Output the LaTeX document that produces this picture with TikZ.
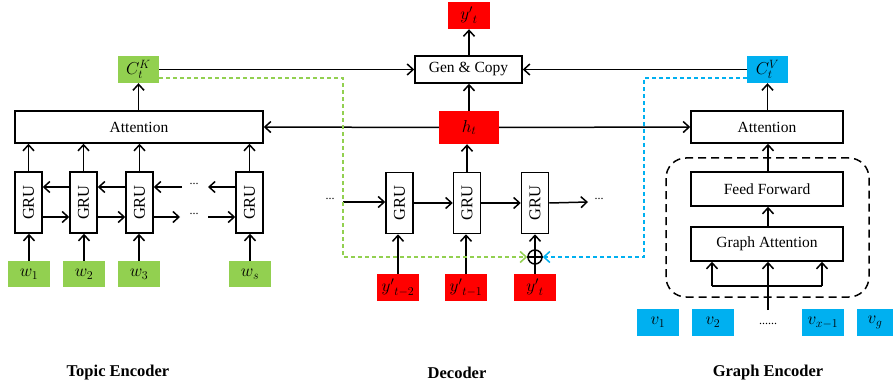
\documentclass[tikz,border=0pt]{standalone}
\usepackage{fontspec}
\setmainfont{Liberation Serif}
\usetikzlibrary{arrows.meta,calc}
\definecolor{gr}{HTML}{92D050}
\definecolor{bl}{HTML}{00B0F0}
\definecolor{rd}{HTML}{FF0000}
\begin{document}
\begin{tikzpicture}[x=1pt,y=-1pt,
 every node/.style={font=\fontsize{15.5}{18}\selectfont, inner sep=0pt},
 box/.style={draw, line width=1.5pt, fill=white},
 grubox/.style={draw, line width=1.5pt, minimum width=27pt, minimum height=61pt},
 mt/.style={font=\fontsize{17}{19}\selectfont},
 gtag/.style={mt, fill=gr, minimum width=42pt, minimum height=26pt},
 rtag/.style={mt, fill=rd, minimum width=42pt, minimum height=27pt},
 btag/.style={mt, fill=bl, minimum width=42pt, minimum height=27pt},
 ln/.style={line width=1.5pt},
 arr/.style={ln, -{Straight Barb[length=6pt,width=11pt,line width=1.5pt]}},
 garr/.style={line width=1.5pt, gr, dash pattern=on 4pt off 3pt, -{Straight Barb[length=6pt,width=11pt,line width=1.5pt]}},
 barr/.style={line width=1.5pt, bl, dash pattern=on 4pt off 3pt, -{Straight Barb[length=6pt,width=11pt,line width=1.5pt]}},
 title/.style={font=\fontsize{16.5}{19}\selectfont\bfseries},
 dts/.style={font=\fontsize{12}{14}\selectfont}
]
\useasboundingbox (0,0) rectangle (893,390);
\newcommand{\grunode}[3]{\node[grubox] (#1) at (#2,#3) {}; \node[rotate=90, font=\fontsize{16.5}{18}\selectfont] (#1t) at (#1) {GRU};}

% ---------- Topic encoder ----------
\node[gtag, minimum width=41pt, minimum height=27pt] (CK) at (138.5,69.5) {$C^{K}_{t}$};
\node[box, minimum width=248pt, minimum height=32pt] (attL) at (139,127) {Attention};
\grunode{g1}{28.5}{202.5}
\grunode{g2}{83.5}{202.5}
\grunode{g3}{139.5}{202.5}
\grunode{g4}{249.5}{202.5}
\node[gtag] (w1) at (29,274) {$w_1$};
\node[gtag] (w2) at (84,274) {$w_2$};
\node[gtag] (w3) at (139,274) {$w_3$};
\node[gtag] (ws) at (250,274) {$w_s$};
\coordinate (rT) at (0,187);
\coordinate (rB) at (0,217);
\node[dts] (dT) at (194,184) {...};
\node[dts] (dB) at (194,214) {...};
\coordinate (dT1) at (208,187);
\coordinate (dT2) at (182,187);
\coordinate (dB1) at (180,217);
\coordinate (dB2) at (208,217);
\foreach \w/\g in {w1/g1,w2/g2,w3/g3,ws/g4}{
  \draw[arr] (\w.north) -- (\w.north |- \g.south);
  \draw[arr] (\g.north) -- (\g.north |- attL.south);
}
\draw[arr] (g2.west |- rT) -- (g1.east |- rT);
\draw[arr] (g3.west |- rT) -- (g2.east |- rT);
\draw[arr] (dT2) -- (g3.east |- rT);
\draw[arr] (g4.west |- rT) -- (dT1);
\draw[arr] (g1.east |- rB) -- (g2.west |- rB);
\draw[arr] (g2.east |- rB) -- (g3.west |- rB);
\draw[arr] (g3.east |- rB) -- (dB1);
\draw[arr] (dB2) -- (g4.west |- rB);
\draw[arr] (attL.north -| CK) -- (CK.south);

% ---------- Decoder ----------
\node[rtag] (yT) at (469,15.5) {${y'}_t$};
\node[box, minimum width=107pt, minimum height=27pt] (gen) at (468.5,69.5) {Gen \& Copy};
\node[rtag, minimum width=60pt, minimum height=33pt] (ht) at (469,127.5) {$h_t$};
\grunode{d1}{399.5}{203}
\grunode{d2}{467}{203}
\grunode{d3}{535}{203}
\node[rtag] (yt2) at (398,287.5) {${y'}_{t-2}$};
\node[rtag] (yt1) at (466,287.5) {${y'}_{t-1}$};
\node[rtag] (yt0) at (535,287.5) {${y'}_t$};
\node[draw, circle, line width=1.5pt, minimum size=14pt] (op) at (535,257) {};
\node[dts] (dL) at (330,199) {...};
\node[dts] (dR) at (599,199) {...};
\coordinate (dL1) at (343,202);
\coordinate (dR1) at (588,202);
\draw[arr] (gen.north -| yT) -- (yT.south);
\draw[arr] (ht.north) -- (ht.north |- gen.south);
\draw[arr] (d2.north) -- (d2.north |- ht.south);
\draw[arr] (dL1) -- (dL1 -| d1.west);
\draw[arr] (d1.east) -- (d2.west);
\draw[arr] (d2.east) -- (d3.west);
\draw[arr] (d3.east) -- (dR1);
\draw[arr] (yt2.north) -- (yt2.north |- d1.south);
\draw[arr] (yt1.north) -- (yt1.north |- d2.south);
\draw[arr] (yt0.north) -- (yt0.north |- d3.south);
\draw[ln] (op.west) -- (op.east);

% ---------- Graph encoder ----------
\node[btag, minimum width=41pt] (CV) at (767.5,69.5) {$C^{V}_{t}$};
\node[box, minimum width=152pt, minimum height=32pt] (attR) at (767,127) {Attention};
\draw[line width=1.5pt, dash pattern=on 8pt off 5pt, rounded corners=20pt] (666,158) rectangle (869,297);
\node[box, minimum width=152pt, minimum height=34pt] (ff) at (767,189) {Feed Forward};
\node[box, minimum width=152pt, minimum height=34pt] (ga) at (767,244) {Graph Attention};
\node[btag] (v1) at (658,322.5) {$v_1$};
\node[btag] (v2) at (713,322.5) {$v_2$};
\node[dts] (vd) at (768,324) {......};
\node[btag] (vx) at (823,322.5) {$v_{x-1}$};
\node[btag, minimum width=36pt] (vg) at (875,322.5) {$v_g$};
\coordinate (fanB) at (768,310);
\coordinate (fanL) at (712,286);
\coordinate (fanR) at (822,286);
\draw[arr] (fanB) -- (fanB |- ga.south);
\draw[ln] (fanL) -- (fanR);
\draw[arr] (fanL) -- (fanL |- ga.south);
\draw[arr] (fanR) -- (fanR |- ga.south);
\draw[arr] (ga.north -| fanB) -- (ff.south -| fanB);
\draw[arr] (ff.north -| fanB) -- (attR.south -| fanB);
\draw[arr] (attR.north -| CV) -- (CV.south);

% ---------- cross connections ----------
\draw[arr] (CK.east) -- (gen.west);
\draw[arr] (CV.west) -- (gen.east);
\draw[arr] (ht.west) -- (attL.east);
\draw[arr] (ht.east) -- (attR.west);
\coordinate (gk1) at (343,78);
\coordinate (gk2) at (343,257);
\draw[garr] (CK.east |- gk1) -- (gk1) -- (gk2) -- (op.west);
\coordinate (bk1) at (644,78);
\coordinate (bk2) at (644,257);
\draw[barr] (CV.west |- bk1) -- (bk1) -- (bk2) -- (op.east);

% ---------- titles ----------
\node[title] (t1) at (118,373) {Topic Encoder};
\node[title] (t2) at (457,373) {Decoder};
\node[title] (t3) at (768,373) {Graph Encoder};
\end{tikzpicture}
\end{document}
